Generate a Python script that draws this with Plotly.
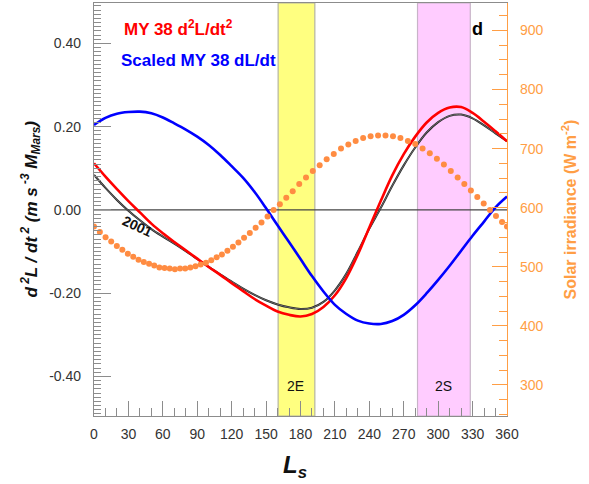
import plotly.graph_objects as go

# ---- data ----
ls_curve = list(range(0, 361, 10))
red_d2L = [0.112, 0.080, 0.050, 0.021, -0.006, -0.033, -0.056, -0.077, -0.097, -0.117,
           -0.137, -0.156, -0.176, -0.195, -0.214, -0.230, -0.244, -0.252, -0.256, -0.250,
           -0.233, -0.205, -0.163, -0.107, -0.042, 0.022, 0.083, 0.134, 0.176, 0.210,
           0.233, 0.246, 0.247, 0.233, 0.212, 0.189, 0.165]
black_2001 = [0.084, 0.053, 0.024, -0.002, -0.025, -0.046, -0.064, -0.081, -0.099, -0.118,
              -0.137, -0.155, -0.172, -0.189, -0.204, -0.217, -0.227, -0.234, -0.238, -0.235,
              -0.221, -0.193, -0.153, -0.100, -0.045, 0.005, 0.058, 0.107, 0.150, 0.186,
              0.211, 0.226, 0.229, 0.220, 0.203, 0.184, 0.165]
blue_dL = [0.204, 0.221, 0.231, 0.235, 0.236, 0.232, 0.222, 0.208, 0.193, 0.176,
           0.156, 0.132, 0.105, 0.077, 0.043, 0.004, -0.037, -0.077, -0.118, -0.159,
           -0.196, -0.228, -0.250, -0.266, -0.273, -0.274, -0.267, -0.252, -0.229, -0.200,
           -0.168, -0.134, -0.098, -0.062, -0.028, 0.006, 0.032]

ls_sun = [0.0, 5.1, 10.1, 15.0, 19.9, 24.7, 29.5, 34.2, 38.8, 43.4,
          48.0, 52.5, 57.0, 61.5, 66.0, 70.5, 75.0, 79.5, 84.0, 88.5,
          93.0, 97.6, 102.2, 106.9, 111.5, 116.3, 121.1, 125.9, 130.8, 135.8,
          140.9, 146.0, 151.3, 156.6, 162.0, 167.6, 173.2, 178.9, 184.8, 190.7,
          196.7, 202.8, 209.0, 215.3, 221.7, 228.1, 234.6, 241.1, 247.6, 254.1,
          260.6, 267.1, 273.6, 280.0, 286.4, 292.7, 298.9, 305.0, 311.0, 317.0,
          322.8, 328.5, 334.1, 339.7, 345.1, 350.4, 355.7, 360.0]
solar_irr = [568, 559, 550, 543, 535, 529, 522, 517, 512, 508,
             505, 502, 499, 498, 497, 496, 497, 497, 499, 501,
             504, 507, 511, 516, 521, 527, 534, 541, 549, 557,
             566, 575, 585, 596, 606, 617, 628, 640, 651, 662,
             672, 682, 691, 700, 707, 713, 718, 721, 722, 722,
             721, 718, 713, 708, 700, 692, 683, 673, 662, 651,
             640, 629, 618, 607, 596, 586, 576, 568]

band_2E = [160.5, 192.5]
band_2S = [282, 328]

x_ticks = list(range(0, 361, 30))
y_ticks = [-0.4, -0.2, 0.0, 0.2, 0.4]
y2_ticks = [300, 400, 500, 600, 700, 800, 900]

ORANGE = "#FF8C42"
AXIS_OR = "#FF9E45"
GREY = "#8C8C8C"
FONT = "Liberation Sans Narrow, Arial Narrow, Liberation Sans, Arial, sans-serif"
BFONT = "Liberation Sans, Arial, sans-serif"

fig = go.Figure()

fig.add_trace(go.Scatter(x=ls_sun, y=solar_irr, mode="markers", yaxis="y2",
                         marker=dict(color=ORANGE, size=6), showlegend=False))
fig.add_trace(go.Scatter(x=ls_curve, y=black_2001, mode="lines",
                         line=dict(color="#222222", width=2.0, shape="spline"), showlegend=False))
fig.add_trace(go.Scatter(x=ls_curve, y=black_2001, mode="lines",
                         line=dict(color="#9a9a9a", width=0.6, shape="spline"), showlegend=False))
fig.add_trace(go.Scatter(x=ls_curve, y=red_d2L, mode="lines",
                         line=dict(color="#FF0000", width=2.6, shape="spline"), showlegend=False))
fig.add_trace(go.Scatter(x=ls_curve, y=blue_dL, mode="lines",
                         line=dict(color="#0000FF", width=2.6, shape="spline"), showlegend=False))

# zero line first, then bands above it
fig.add_shape(type="line", xref="x", yref="y", x0=0, x1=360, y0=0, y1=0,
              line=dict(color="#444444", width=1.3), layer="below")
fig.add_shape(type="rect", xref="x", yref="paper", x0=band_2E[0], x1=band_2E[1], y0=0, y1=1,
              fillcolor="#FFFF80", line=dict(color="#B5B5A0", width=1.2), layer="below")
fig.add_shape(type="rect", xref="x", yref="paper", x0=band_2S[0], x1=band_2S[1], y0=0, y1=1,
              fillcolor="#FFCCFF", line=dict(color="#C8B4C8", width=1.2), layer="below")

ann = [
    dict(x=24, y=0.437, text="<b>MY 38 d<sup>2</sup>L/dt<sup>2</sup></b>", font=dict(color="#FF0000", size=17, family=BFONT),
         xanchor="left"),
    dict(x=21.5, y=0.36, text="<b>Scaled MY 38 dL/dt</b>", font=dict(color="#0000FF", size=17, family=BFONT),
         xanchor="left"),
    dict(x=334, y=0.434, text="<b>d</b>", font=dict(color="black", size=18, family=BFONT), xanchor="center"),
    dict(x=37.5, y=-0.038, text="<b>2001</b>", font=dict(color="#111111", size=14, family=BFONT), textangle=25),
    dict(x=176, y=-0.422, text="2E", font=dict(color="#111111", size=14, family=BFONT)),
    dict(x=305, y=-0.422, text="2S", font=dict(color="#111111", size=14, family=BFONT)),
]
for a in ann:
    a.update(xref="x", yref="y", showarrow=False, yanchor="middle")
    fig.add_annotation(**a)

fig.add_annotation(xref="paper", yref="paper", x=0, y=0.5, xshift=-63, textangle=-90,
                   text="<b><i>d<sup> 2</sup>L / dt<sup> 2</sup> (m s<sup> -3</sup> M<sub>Mars</sub>)</i></b>",
                   font=dict(size=17, color="#111111", family=BFONT), showarrow=False,
                   xanchor="center", yanchor="middle")
fig.add_annotation(xref="paper", yref="paper", x=1, y=0.5, xshift=62, textangle=-90,
                   text="<b>Solar irradiance (W m<sup>-2</sup>)</b>",
                   font=dict(size=16, color=AXIS_OR, family=BFONT), showarrow=False,
                   xanchor="center", yanchor="middle")
fig.add_annotation(xref="paper", yref="paper", x=0.487, y=0, yshift=-50,
                   text="<b><i>L<sub>s</sub></i></b>",
                   font=dict(size=24, color="#111111", family=BFONT), showarrow=False,
                   xanchor="center", yanchor="middle")

fig.update_layout(
    width=589, height=484,
    margin=dict(l=94, r=82, t=3, b=68),
    paper_bgcolor="white", plot_bgcolor="white",
    showlegend=False,
    xaxis=dict(range=[0, 360], tickvals=x_ticks, ticks="inside", ticklen=15, tickcolor=GREY,
               tickwidth=1, linecolor=GREY, linewidth=1.2, mirror=True, showgrid=False, zeroline=False,
               tickfont=dict(size=14, color="#333333", family=FONT), ticklabelstandoff=5,
               minor=dict(dtick=10, ticks="inside", ticklen=8, tickcolor=GREY, showgrid=False)),
    yaxis=dict(range=[-0.495, 0.497], tickvals=y_ticks, ticktext=["-0.40", "-0.20", "0.00", "0.20", "0.40"],
               ticks="inside", ticklen=17, tickcolor=GREY, linecolor=GREY, linewidth=1.2,
               showgrid=False, zeroline=False, ticklabelstandoff=9,
               tickfont=dict(size=14, color="#333333", family=FONT),
               minor=dict(dtick=0.01, ticks="inside", ticklen=7, tickcolor=GREY, showgrid=False)),
    yaxis2=dict(range=[247.5, 946.4], overlaying="y", side="right", tickvals=y2_ticks,
                ticks="inside", ticklen=15, tickcolor=AXIS_OR, linecolor=AXIS_OR, linewidth=1.2,
                showline=True, showgrid=False, zeroline=False, ticklabelstandoff=9,
                tickfont=dict(size=14, color=AXIS_OR, family=FONT),
                minor=dict(dtick=25, ticks="inside", ticklen=8, tickcolor=AXIS_OR, showgrid=False)),
)

fig.write_html("out.html", config={"displayModeBar": False},
               post_script="document.body.style.margin='0';document.body.style.padding='0';")
